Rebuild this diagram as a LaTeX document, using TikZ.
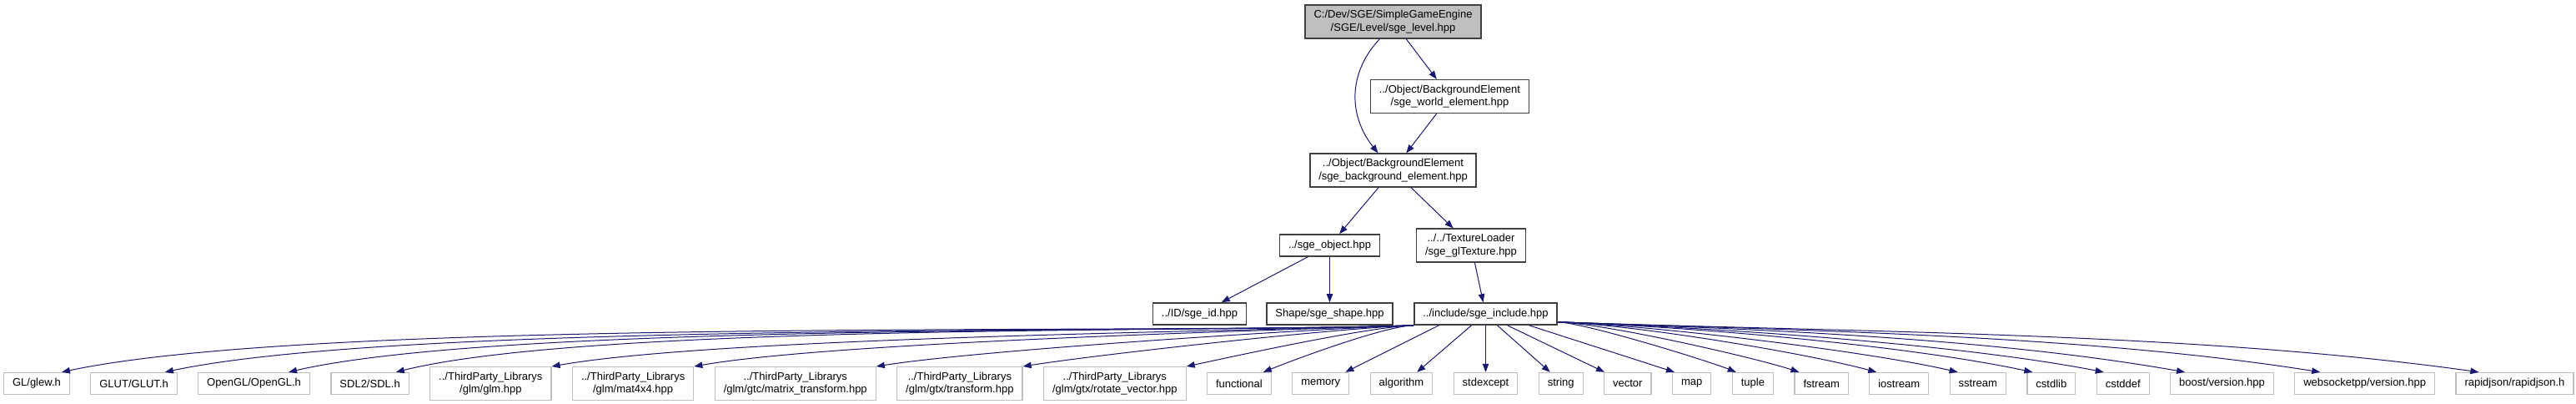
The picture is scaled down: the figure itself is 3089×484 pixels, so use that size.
\documentclass[tikz,border=0pt]{standalone}
\usepackage{fontspec}
\setmainfont{Liberation Sans}
\usepackage{xcolor}
\usetikzlibrary{arrows.meta,positioning}
\definecolor{edgeblue}{RGB}{25,25,112}
\definecolor{boxgray}{RGB}{191,191,191}
\definecolor{boxdark}{RGB}{64,64,64}
\tikzset{
    filenode/.style={rectangle, draw=boxdark, line width=1.6pt, fill=white, align=center, font=\fontsize{13}{15.5}\selectfont, inner xsep=10.5pt, inner ysep=6pt, minimum height=26pt},
    rootnode/.style={filenode, fill=boxgray},
    extnode/.style={filenode, draw=boxgray, line width=1.2pt},
    dep/.style={-{Triangle[length=10pt,width=7.5pt]}, draw=edgeblue, line width=1pt},
}

\begin{document}
\begin{tikzpicture}[x=1pt, y=1pt, node distance=24.3pt]
    \useasboundingbox (0,0) rectangle (3089,-484);
    \node[rootnode] (level) at (1670.5,-26) {C:/Dev/SGE/SimpleGameEngine\\/SGE/Level/sge\_level.hpp};
    \node[filenode] (world) at (1738.5,-115.5) {../Object/BackgroundElement\\/sge\_world\_element.hpp};
    \node[filenode] (bg) at (1670.5,-204) {../Object/BackgroundElement\\/sge\_background\_element.hpp};
    \node[filenode] (obj) at (1594.5,-294) {../sge\_object.hpp};
    \node[filenode] (tex) at (1764,-294) {../../TextureLoader\\/sge\_glTexture.hpp};
    \node[filenode] (sid) at (1438.5,-376) {../ID/sge\_id.hpp};
    \node[filenode] (shape) at (1594.5,-376) {Shape/sge\_shape.hpp};
    \node[filenode] (inc) at (1781.5,-376) {../include/sge\_include.hpp};

    % headers pulled in by sge_include.hpp
    \node[extnode, below=56pt of inc] (stdexcept) {stdexcept};
    \node[extnode, left=of stdexcept] (algorithm) {algorithm};
    \node[extnode, left=of algorithm] (memory) {memory};
    \node[extnode, left=of memory] (functional) {functional};
    \node[extnode, left=of functional] (rotvec) {../ThirdParty\_Librarys\\/glm/gtx/rotate\_vector.hpp};
    \node[extnode, left=of rotvec] (gtxtr) {../ThirdParty\_Librarys\\/glm/gtx/transform.hpp};
    \node[extnode, left=of gtxtr] (mattr) {../ThirdParty\_Librarys\\/glm/gtc/matrix\_transform.hpp};
    \node[extnode, left=of mattr] (mat4) {../ThirdParty\_Librarys\\/glm/mat4x4.hpp};
    \node[extnode, left=of mat4] (glm) {../ThirdParty\_Librarys\\/glm/glm.hpp};
    \node[extnode, left=of glm] (sdl) {SDL2/SDL.h};
    \node[extnode, left=of sdl] (opengl) {OpenGL/OpenGL.h};
    \node[extnode, left=of opengl] (glut) {GLUT/GLUT.h};
    \node[extnode, left=of glut] (glew) {GL/glew.h};
    \node[extnode, right=of stdexcept] (string) {string};
    \node[extnode, right=of string] (vector) {vector};
    \node[extnode, right=of vector] (map) {map};
    \node[extnode, right=of map] (tuple) {tuple};
    \node[extnode, right=of tuple] (fstream) {fstream};
    \node[extnode, right=of fstream] (iostream) {iostream};
    \node[extnode, right=of iostream] (sstream) {sstream};
    \node[extnode, right=of sstream] (cstdlib) {cstdlib};
    \node[extnode, right=of cstdlib] (cstddef) {cstddef};
    \node[extnode, right=of cstddef] (boost) {boost/version.hpp};
    \node[extnode, right=of boost] (wspp) {websocketpp/version.hpp};
    \node[extnode, right=of wspp] (rjson) {rapidjson/rapidjson.h};

    \draw[dep] (level) -- (world);
    \draw[dep] ([xshift=-16pt]level.south) .. controls +(-38,-40) and +(-36,45) .. ([xshift=-18pt]bg.north);
    \draw[dep] (world) -- (bg);
    \draw[dep] (bg) -- (obj);
    \draw[dep] (bg) -- (tex);
    \draw[dep] (obj) -- (sid);
    \draw[dep] (obj) -- (shape);
    \draw[dep] (tex) -- (inc);

    \foreach \n/\dx/\a/\k in {glew/-10/12/317, glut/-15/12/294, opengl/-26/13/265, sdl/-16/14/240, glm/0/10/203, mat4/0/10/169, mattr/0/9/126, gtxtr/0/9/92, rotvec/0/12/56, functional/-10/22/37}
        \draw[dep] (inc.south west) .. controls +(-\k,{-0.035*\k}) and +({\k*cos(\a)},{\k*sin(\a)}) .. ([xshift=\dx pt]\n.north east);
    \draw[dep] ([xshift=-56pt]inc.south) -- ([xshift=-5pt]memory.north east);
    \draw[dep] ([xshift=-17pt]inc.south) -- ([xshift=-19pt]algorithm.north east);
    \draw[dep] (inc) -- (stdexcept);
    \draw[dep] ([xshift=14pt]inc.south) -- ([xshift=14pt]string.north west);
    \draw[dep] ([xshift=26pt]inc.south) -- ([xshift=1pt]vector.north west);
    \draw[dep] ([xshift=52pt]inc.south) -- ([xshift=3pt]map.north west);
    \foreach \n/\dx/\a/\k in {tuple/5/158/34, fstream/6/162/58, iostream/9/165/91, sstream/10/167/113, cstdlib/7/168/157, cstddef/9/169/181, boost/18/170/237, wspp/31/171/287, rjson/28/172/346}
        \draw[dep] ([yshift=4pt]inc.south east) .. controls +(\k,{-0.035*\k}) and +({\k*cos(\a)},{\k*sin(\a)}) .. ([xshift=\dx pt]\n.north west);
\end{tikzpicture}
\end{document}
